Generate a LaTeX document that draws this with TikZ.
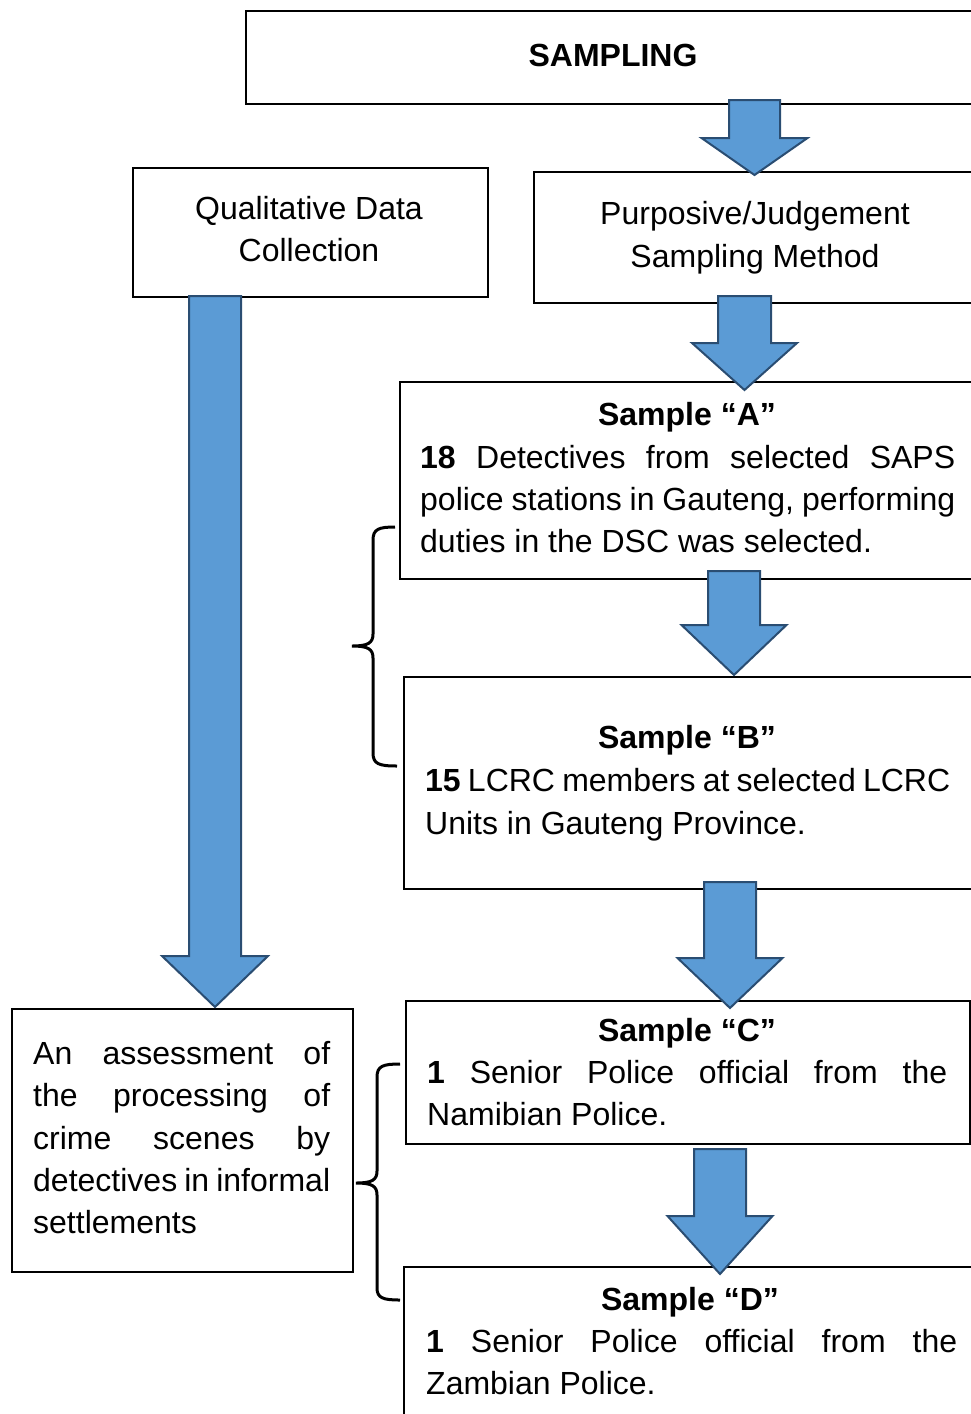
\documentclass[tikz,border=0pt]{standalone}
\usepackage{fontspec}
\setmainfont{Liberation Sans}
\definecolor{arrfill}{HTML}{5B9BD5}
\definecolor{arrline}{HTML}{2A4D72}
\tikzset{
  box/.style={draw=black, line width=2pt, fill=white, inner sep=0pt, anchor=north west},
  blockarrow/.style={fill=arrfill, draw=arrline, line width=2pt, line join=miter},
  bracepath/.style={draw=black, line width=3pt},
  txt/.style={inner sep=0pt, anchor=base west, font=\fontsize{32}{42}\selectfont},
  ctxt/.style={inner sep=0pt, anchor=base, font=\fontsize{32}{42}\selectfont},
}
% xc, ytop, yhead, ytip, shaft half width, head half width
\newcommand\blkarrow[6]{%
  \path[blockarrow] (#1-#5,#2) -- (#1+#5,#2) -- (#1+#5,#3) -- (#1+#6,#3) -- (#1,#4)
    -- (#1-#6,#3) -- (#1-#5,#3) -- cycle;}
\begin{document}
\begin{tikzpicture}[x=1pt,y=-1pt]
\useasboundingbox (0,0) rectangle (971,1414);
\clip (0,0) rectangle (971,1414);

% boxes
\node[box, minimum width=760pt, minimum height=93pt] (sampling) at (245,10) {};
\node[box, minimum width=355pt, minimum height=129pt] (qual) at (132,167) {};
\node[box, minimum width=460pt, minimum height=131pt] (purp) at (533,171) {};
\node[box, minimum width=590pt, minimum height=197pt] (sa) at (399,381) {};
\node[box, minimum width=590pt, minimum height=212pt] (sb) at (403,676) {};
\node[box, minimum width=564pt, minimum height=143pt] (sc) at (405,1000) {};
\node[box, minimum width=590pt, minimum height=170pt] (sd) at (403,1266) {};
\node[box, minimum width=341pt, minimum height=263pt] (assess) at (11,1008) {};

% texts
\node[ctxt] (t0) at (613,66) {\bfseries SAMPLING};
\node[ctxt] (tq1) at (309,219) {Qualitative Data};
\node[ctxt] (tq2) at (309,261) {Collection};
\node[ctxt] (tp1) at (755,224) {Purposive/Judgement};
\node[ctxt] (tp2) at (755,267) {Sampling Method};

\node[ctxt] (ta0) at (687,425) {\bfseries Sample “A”};
\node[txt] (ta1) at (420,468) {\makebox[535pt][s]{\bfseries 18\mdseries{} Detectives from selected SAPS}};
\node[txt] (ta2) at (420,510) {\makebox[535pt][s]{police stations in Gauteng, performing}};
\node[txt] (ta3) at (420,552) {duties in the DSC was selected.};

\node[ctxt] (tb0) at (687,748) {\bfseries Sample “B”};
\node[txt] (tb1) at (425,791) {\makebox[525pt][s]{\bfseries 15\mdseries{} LCRC members at selected LCRC}};
\node[txt] (tb2) at (425,834) {Units in Gauteng Province.};

\node[ctxt] (tc0) at (687,1041) {\bfseries Sample “C”};
\node[txt] (tc1) at (427,1083) {\makebox[520pt][s]{\bfseries 1\mdseries{} Senior Police official from the}};
\node[txt] (tc2) at (427,1125) {Namibian Police.};

\node[ctxt] (td0) at (690,1310) {\bfseries Sample “D”};
\node[txt] (td1) at (426,1352) {\makebox[531pt][s]{\bfseries 1\mdseries{} Senior Police official from the}};
\node[txt] (td2) at (426,1394) {Zambian Police.};

\node[txt] (te1) at (33,1064) {\makebox[297pt][s]{An assessment of}};
\node[txt] (te2) at (33,1106) {\makebox[297pt][s]{the processing of}};
\node[txt] (te3) at (33,1149) {\makebox[297pt][s]{crime scenes by}};
\node[txt] (te4) at (33,1191) {\makebox[297pt][s]{detectives in informal}};
\node[txt] (te5) at (33,1233) {settlements};

% braces
\draw[bracepath] (395,527) .. controls (379,527) and (373,529) .. (373,540) -- (373,634)
  .. controls (373,643) and (368,646) .. (352,646)
  .. controls (368,646) and (373,649) .. (373,658) -- (373,753)
  .. controls (373,764) and (379,766) .. (397,766);
\draw[bracepath] (400,1064) .. controls (383,1064) and (377,1066) .. (377,1077) -- (377,1171)
  .. controls (377,1180) and (372,1183) .. (356,1183)
  .. controls (372,1183) and (377,1186) .. (377,1195) -- (377,1288)
  .. controls (377,1298) and (383,1300) .. (400,1300);

% block arrows
\blkarrow{754.5}{100}{138}{175}{25.5}{53}
\blkarrow{215}{296}{956}{1007}{26}{53}
\blkarrow{744.5}{296}{343}{390}{26.5}{52.5}
\blkarrow{734}{571}{625}{675}{26}{52.5}
\blkarrow{730}{882}{958}{1008}{26}{52.5}
\blkarrow{720}{1149}{1216}{1274}{26}{52.5}
\end{tikzpicture}
\end{document}
